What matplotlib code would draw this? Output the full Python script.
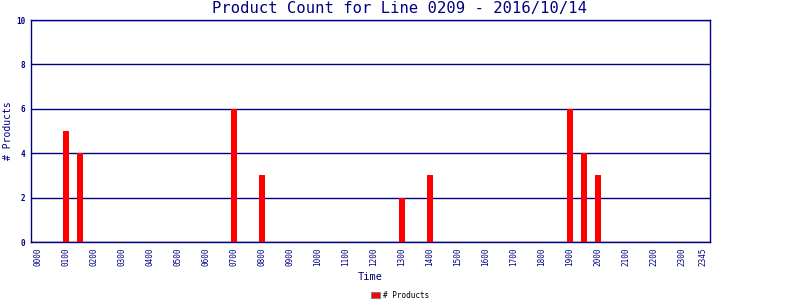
import matplotlib
matplotlib.use('Agg')
import matplotlib.pyplot as plt
from matplotlib.patches import Patch

# 15-minute slots, 0000 .. 2345
slots = ['%02d%02d' % (h, m) for h in range(24) for m in (0, 15, 30, 45)]
counts = {'0100': 5, '0130': 4, '0700': 6, '0800': 3, '1300': 2,
          '1400': 3, '1900': 6, '1930': 4, '2000': 3}
values = [counts.get(s, 0) for s in slots]
tick_labels = ['%02d00' % h for h in range(24)] + ['2345']
y_ticks = [0, 2, 4, 6, 8, 10]

navy = '#000080'
plt.rcParams['font.family'] = 'DejaVu Sans Mono'

fig = plt.figure(figsize=(8, 3), dpi=100)
ax = fig.add_axes([31/800, 58/300, 679/800, 222/300])

x = list(range(len(slots)))
ax.bar(x, values, width=0.85, color='#ff0000', zorder=3, label='# Products')

ax.set_xlim(-1, len(slots))
ax.set_ylim(0, 10)
ax.set_yticks(y_ticks)
ax.set_yticklabels([str(v) for v in y_ticks], fontsize=5.5, color=navy,
                   fontweight='bold')
tick_pos = [slots.index(t) for t in tick_labels]
ax.set_xticks(tick_pos)
ax.set_xticklabels(tick_labels, rotation=90, fontsize=5.5, color=navy)
ax.tick_params(length=0, pad=4)
ax.yaxis.grid(True, color=navy, linewidth=1, zorder=1)
for s in ax.spines.values():
    s.set_color(navy)
    s.set_linewidth(1)

fig.text(0.5, 1 - 9/300, 'Product Count for Line 0209 - 2016/10/14',
         ha='center', va='center', fontsize=11.2, color=navy)
fig.text(370/800, 1 - 277/300, 'Time', ha='center', va='center',
         fontsize=7.5, color=navy)
fig.text(8/800, 1 - 131/300, '# Products', ha='center', va='center',
         rotation=90, fontsize=7, color=navy)

handle = Patch(facecolor='#ff0000', edgecolor='#808080', linewidth=0.8)
fig.legend([handle], ['# Products'], loc='center', bbox_to_anchor=(400/800, 1 - 295/300),
           frameon=False, fontsize=5.5, handlelength=1.2, handleheight=0.9,
           handletextpad=0.3, labelcolor='black', borderaxespad=0)

plt.savefig('out.png', dpi=100)
